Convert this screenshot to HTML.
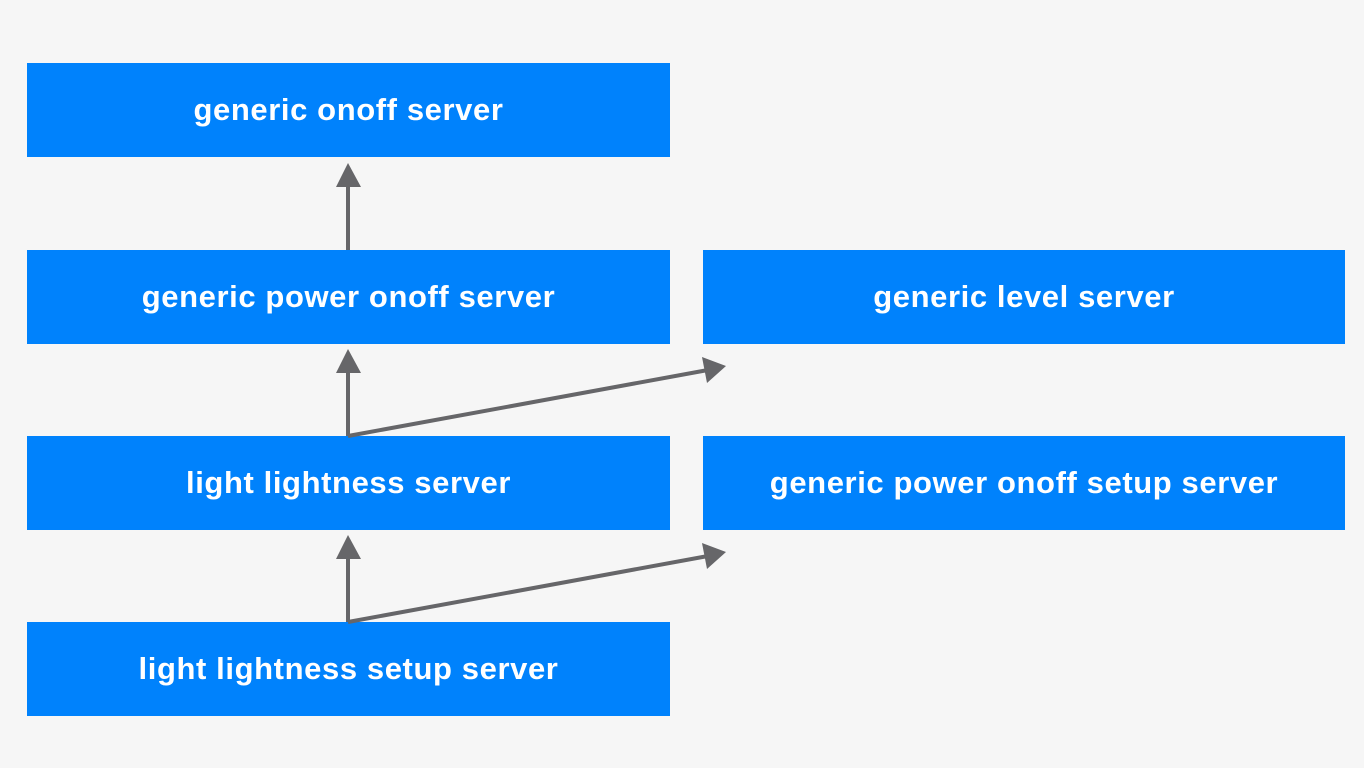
<!DOCTYPE html>
<html><head><style>
body{margin:0;width:1364px;height:768px;background:#f6f6f6;position:relative;overflow:hidden;font-family:"Liberation Sans",sans-serif}
.b{position:absolute;background:#0082fc;color:#fff;font-weight:bold;font-size:31px;letter-spacing:0.6px;display:flex;align-items:center;justify-content:center;height:94px}
.l{left:27px;width:643px}.r{left:703px;width:642px}
svg{position:absolute;left:0;top:0}
</style></head><body>
<div class="b l" style="top:63px">generic onoff server</div>
<div class="b l" style="top:250px">generic power onoff server</div>
<div class="b r" style="top:250px">generic level server</div>
<div class="b l" style="top:436px">light lightness server</div>
<div class="b r" style="top:436px">generic power onoff setup server</div>
<div class="b l" style="top:622px">light lightness setup server</div>
<svg width="1364" height="768">
<g stroke="#666669" stroke-width="4" fill="none">
<line x1="348" y1="250" x2="348" y2="185"/>
<line x1="348" y1="436" x2="348" y2="370"/>
<line x1="348" y1="622" x2="348" y2="556"/>
<line x1="348" y1="436" x2="708" y2="370"/>
<line x1="348" y1="622" x2="708" y2="556"/>
</g>
<g fill="#666669">
<polygon points="348,163 336,187 361,187"/>
<polygon points="348,349 336,373 361,373"/>
<polygon points="348,535 336,559 361,559"/>
<polygon points="726,366 702,357 707,383"/>
<polygon points="726,552 702,543 707,569"/>
</g>
</svg>
</body></html>
